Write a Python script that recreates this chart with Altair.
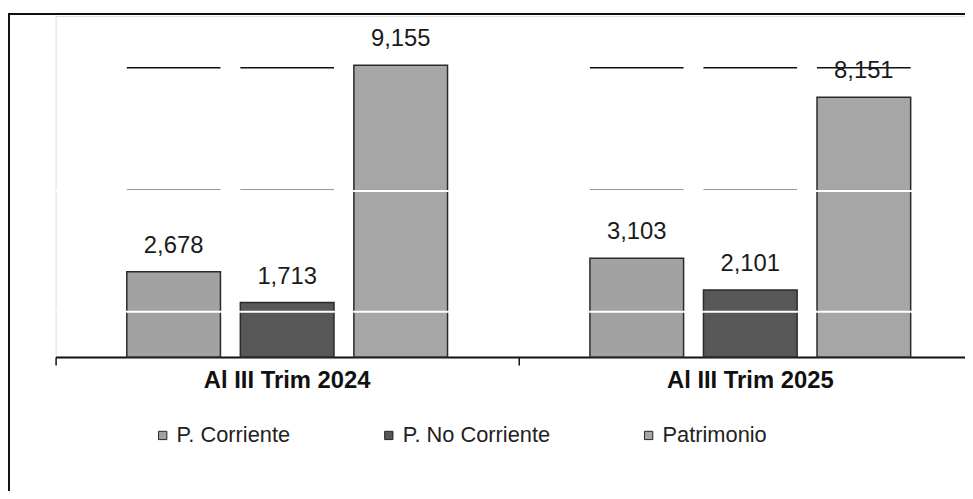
import altair as alt
import pandas as pd

# ---- data ----
periods = ["Al III Trim 2024", "Al III Trim 2025"]
series = ["P. Corriente", "P. No Corriente", "Patrimonio"]
values_2024 = [2678, 1713, 9155]
values_2025 = [3103, 2101, 8151]
colors = ["#a2a2a2", "#575757", "#a6a6a6"]

# faint scan artefacts (grid-like lines) levels, in data units
artefact_top = [9055]
artefact_mid = [5210]
artefact_white = [1420, 5210]

rows = []
for p, vals in zip(periods, [values_2024, values_2025]):
    for s, v in zip(series, vals):
        rows.append({"periodo": p, "serie": s, "valor": v})
df = pd.DataFrame(rows)

FONT = "Liberation Sans"
W, H = 917, 344
YMAX = 10700

x_enc = alt.X("periodo:N", sort=periods,
              scale=alt.Scale(range=[0, 934], paddingInner=0, paddingOuter=0),
              axis=alt.Axis(title=None, labelAngle=0, labelFont=FONT, labelFontSize=24,
                            labelFontWeight="bold", labelColor="#111", labelPadding=4,
                            domainColor="#111", domainWidth=2, tickColor="#111",
                            tickWidth=1.5, tickSize=8, bandPosition=0, grid=False))
xo_enc = alt.XOffset("serie:N", sort=series,
                     scale=alt.Scale(paddingInner=0.175, paddingOuter=0.627))
y_scale = alt.Scale(domain=[0, YMAX], nice=False)
y_enc = alt.Y("valor:Q", scale=y_scale, axis=None)

base = alt.Chart(df)

# artefact segments behind bars
top_df = df.assign(g=artefact_top[0], g2=artefact_top[0] + 45)
top_seg = alt.Chart(top_df).mark_bar(color="#111").encode(
    x=x_enc, xOffset=xo_enc,
    y=alt.Y("g:Q", scale=y_scale, axis=None), y2="g2:Q")
mid_df = df.assign(g=artefact_mid[0], g2=artefact_mid[0] + 45)
mid_seg = alt.Chart(mid_df).mark_bar(color="#333", strokeDash=[6, 3]).encode(
    x=x_enc, xOffset=xo_enc,
    y=alt.Y("g:Q", scale=y_scale, axis=None), y2="g2:Q")

bars = base.mark_bar(stroke="#2a2a2a", strokeWidth=1.5).encode(
    x=x_enc, xOffset=xo_enc, y=y_enc,
    color=alt.Color("serie:N", sort=series,
                    scale=alt.Scale(domain=series, range=colors),
                    legend=alt.Legend(title=None, orient="none", legendX=97, legendY=412,
                                      direction="horizontal", symbolType="square",
                                      symbolSize=70, symbolStrokeColor="#222",
                                      symbolStrokeWidth=1, labelFont=FONT,
                                      labelFontSize=22, labelColor="#222",
                                      labelOffset=3, columnPadding=88)))

white_df = pd.DataFrame({"g": artefact_white})
white_rules = alt.Chart(white_df).mark_rule(color="white", strokeWidth=2).encode(
    y=alt.Y("g:Q", scale=y_scale, axis=None))

labels = base.mark_text(font=FONT, fontSize=24, color="#1a1a1a",
                        baseline="alphabetic", dy=-19).encode(
    x=x_enc, xOffset=xo_enc, y=y_enc,
    text=alt.Text("valor:Q", format=",d"))

frame = alt.Chart(pd.DataFrame({"k": [0]})).mark_rect(
    filled=False, stroke="#111", strokeWidth=2).encode(
    x=alt.value(-47), x2=alt.value(2000), y=alt.value(-2), y2=alt.value(2000))

chart = alt.layer(frame, top_seg, mid_seg, bars, white_rules, labels).properties(
    width=W, height=H,
    autosize=alt.AutoSizeParams(type="none"),
    padding={"left": 48, "top": 6, "right": 0, "bottom": 133},
).configure_view(strokeOpacity=0, strokeWidth=0).configure_axis(grid=False).configure(
    background="white")

chart.save("out.html", embed_options={"renderer": "svg", "actions": False})
